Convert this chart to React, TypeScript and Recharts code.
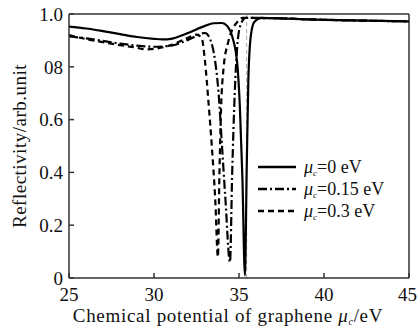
import {
  LineChart,
  Line,
  XAxis,
  YAxis,
  ReferenceLine,
} from 'recharts';

// μc = 0 eV (solid)
const xSolid = [25, 26, 27, 28, 29, 30, 30.5, 31, 32, 33, 33.5, 34, 34.3, 34.6, 34.9, 35.05, 35.2, 35.35, 35.45, 35.55, 35.7, 35.9, 36.3, 37, 40, 45];
const ySolid = [0.952, 0.945, 0.935, 0.924, 0.913, 0.906, 0.904, 0.906, 0.928, 0.955, 0.965, 0.966, 0.955, 0.915, 0.81, 0.65, 0.38, 0.01, 0.4, 0.75, 0.92, 0.97, 0.985, 0.984, 0.978, 0.972];

// μc = 0.15 eV (dash-dot)
const xDashDot = [25, 26, 27, 28, 29, 30, 31, 32, 33, 33.3, 33.6, 33.8, 34.0, 34.2, 34.47, 34.6, 34.75, 34.9, 35.1, 35.4, 36, 40, 45];
const yDashDot = [0.915, 0.908, 0.898, 0.888, 0.88, 0.876, 0.88, 0.902, 0.928, 0.905, 0.82, 0.7, 0.5, 0.3, 0.06, 0.4, 0.7, 0.88, 0.96, 0.985, 0.985, 0.978, 0.972];

// μc = 0.3 eV (dashed)
const xDashed = [25, 26, 27, 28, 29, 29.5, 30, 31, 32, 32.5, 32.8, 33.0, 33.2, 33.4, 33.6, 33.76, 33.85, 33.95, 34.1, 34.35, 34.6, 34.9, 35.2, 36, 40, 45];
const yDashed = [0.92, 0.905, 0.893, 0.882, 0.872, 0.866, 0.868, 0.882, 0.91, 0.922, 0.91, 0.82, 0.67, 0.5, 0.3, 0.08, 0.4, 0.65, 0.8, 0.89, 0.94, 0.97, 0.985, 0.985, 0.978, 0.972];

const xTicks = [25, 30, 35, 40, 45];
const yTicks = [0, 0.2, 0.4, 0.6, 0.8, 1.0];
const yTickLabels = ['0', '0.2', '0.4', '0.6', '08', '1.0'];

const legendItems = [
  { sub: '=0 eV', dash: undefined as string | undefined },
  { sub: '=0.15 eV', dash: '9 3 2 3' },
  { sub: '=0.3 eV', dash: '6 4' },
];

const zip = (xs: number[], ys: number[]) => xs.map((x, i) => ({ x, y: ys[i] }));

const solidData = zip(xSolid, ySolid);
const dashDotData = zip(xDashDot, yDashDot);
const dashedData = zip(xDashed, yDashed);

const FONT = '"Liberation Serif", "Times New Roman", serif';
const AXIS = '#333';

function LegendBox() {
  return (
    <svg width={150} height={70}>
      {legendItems.map((it, i) => (
        <g key={i} transform={`translate(0, ${i * 22})`}>
          <line x1={2} y1={10} x2={40} y2={10} stroke="#000" strokeWidth={2.5} strokeDasharray={it.dash} />
          <text x={48} y={16} fontFamily={FONT} fontSize={18} fill="#111">
            <tspan fontStyle="italic">μ</tspan>
            <tspan fontStyle="italic" fontSize={9} dy={3}>c</tspan>
            <tspan dy={-3}>{it.sub}</tspan>
          </text>
        </g>
      ))}
    </svg>
  );
}

export default function App() {
  return (
    <div style={{ position: 'absolute', left: 0, top: 0, width: 417, height: 326, background: '#fff' }}>
      <LineChart width={417} height={326} margin={{ top: 14, right: 8, left: 0, bottom: 0 }}>
        <XAxis
          type="number"
          dataKey="x"
          domain={[25, 45]}
          ticks={xTicks}
          allowDuplicatedCategory={false}
          height={48}
          stroke={AXIS}
          strokeWidth={1.5}
          tickSize={-5}
          tickMargin={15}
          tick={{ fill: '#111', fontSize: 19, fontFamily: FONT }}
          label={(props: any) => {
            const vb = props.viewBox || { x: 69, y: 278, width: 340, height: 48 };
            return (
              <text x={228} y={vb.y + 44} textAnchor="middle" fontFamily={FONT} fontSize={19} letterSpacing={0.7} fill="#111">
                Chemical potential of graphene{' '}
                <tspan fontStyle="italic">μ</tspan>
                <tspan fontStyle="italic" fontSize={10} dy={3}>c</tspan>
                <tspan dy={-3}>/eV</tspan>
              </text>
            );
          }}
        />
        <YAxis
          type="number"
          domain={[0, 1]}
          ticks={yTicks}
          width={69}
          stroke={AXIS}
          strokeWidth={1.5}
          tickSize={-5}
          tickMargin={11}
          tickFormatter={(v: number) => yTickLabels[yTicks.indexOf(v)] ?? String(v)}
          tick={{ fill: '#111', fontSize: 19, fontFamily: FONT }}
          label={{
            value: 'Reflectivity/arb.unit',
            angle: -90,
            position: 'insideLeft',
            dx: 14,
            style: { textAnchor: 'middle', fontFamily: FONT, fontSize: 19, letterSpacing: 0.5, fill: '#111' },
          }}
        />
        <ReferenceLine y={1} stroke={AXIS} strokeWidth={1.5} />
        <ReferenceLine x={45} stroke={AXIS} strokeWidth={1.5} />
        <ReferenceLine x={35.45} stroke="#aaa" strokeWidth={1} strokeDasharray="4 3" />
        <Line data={dashedData} dataKey="y" type="monotone" stroke="#000" strokeWidth={2.2} strokeDasharray="6 4" dot={false} isAnimationActive={false} />
        <Line data={dashDotData} dataKey="y" type="monotone" stroke="#000" strokeWidth={2.2} strokeDasharray="9 3 2 3" dot={false} isAnimationActive={false} />
        <Line data={solidData} dataKey="y" type="monotone" stroke="#000" strokeWidth={2.2} dot={false} isAnimationActive={false} />
      </LineChart>
      <div style={{ position: 'absolute', left: 256, top: 157 }}>
        <LegendBox />
      </div>
    </div>
  );
}
